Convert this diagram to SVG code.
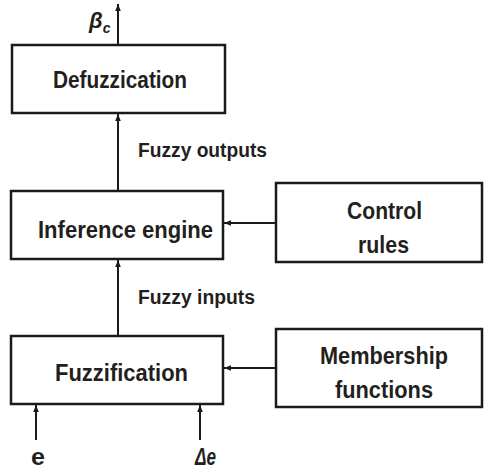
<svg xmlns="http://www.w3.org/2000/svg" width="485" height="470" viewBox="0 0 485 470">
  <defs>
    <marker id="arrow" markerWidth="8" markerHeight="8" refX="7" refY="4" orient="auto" markerUnits="userSpaceOnUse">
      <path d="M0,1.2 L7,4 L0,6.8 Z" fill="#1a1a1a"/>
    </marker>
    <style>
      .box { fill: #ffffff; stroke: #1a1a1a; stroke-width: 2.5; }
      .wire { fill: none; stroke: #1a1a1a; stroke-width: 2; marker-end: url(#arrow); }
      .lbl { font-family: "Liberation Sans", Arial, sans-serif; font-weight: bold; fill: #231f20; }
      .big { font-size: 24px; }
      .small { font-size: 20px; }
    </style>
  </defs>
  <rect width="485" height="470" fill="#ffffff"/>

  <g id="defuzzication">
    <rect class="box" x="12" y="45" width="213" height="68"/>
    <text class="lbl big" x="53" y="88" textLength="134" lengthAdjust="spacingAndGlyphs">Defuzzication</text>
  </g>

  <g id="inference-engine">
    <rect class="box" x="11" y="191" width="212" height="68"/>
    <text class="lbl big" x="38" y="238" textLength="175" lengthAdjust="spacingAndGlyphs">Inference engine</text>
  </g>

  <g id="control-rules">
    <rect class="box" x="276" y="183" width="206" height="79"/>
    <text class="lbl big" x="347" y="219" textLength="75" lengthAdjust="spacingAndGlyphs">Control</text>
    <text class="lbl big" x="358" y="253" textLength="51" lengthAdjust="spacingAndGlyphs">rules</text>
  </g>

  <g id="fuzzification">
    <rect class="box" x="11" y="336" width="212" height="68"/>
    <text class="lbl big" x="55" y="381" textLength="133" lengthAdjust="spacingAndGlyphs">Fuzzification</text>
  </g>

  <g id="membership-functions">
    <rect class="box" x="276" y="329" width="206" height="78"/>
    <text class="lbl big" x="320" y="364" textLength="128" lengthAdjust="spacingAndGlyphs">Membership</text>
    <text class="lbl big" x="335" y="398" textLength="98" lengthAdjust="spacingAndGlyphs">functions</text>
  </g>

  <g id="connectors">
    <line class="wire" x1="118" y1="45" x2="118" y2="4"/>
    <line class="wire" x1="118" y1="191" x2="118" y2="114"/>
    <line class="wire" x1="118" y1="336" x2="118" y2="260"/>
    <line class="wire" x1="276" y1="223" x2="224" y2="223"/>
    <line class="wire" x1="276" y1="368" x2="224" y2="368"/>
    <line class="wire" x1="36" y1="440" x2="36" y2="405"/>
    <line class="wire" x1="200" y1="440" x2="200" y2="405"/>
  </g>

  <g id="labels">
    <text class="lbl small" x="138" y="157" textLength="129" lengthAdjust="spacingAndGlyphs">Fuzzy outputs</text>
    <text class="lbl small" x="138" y="304" textLength="117" lengthAdjust="spacingAndGlyphs">Fuzzy inputs</text>
    <text class="lbl big" x="31" y="465" textLength="14" lengthAdjust="spacingAndGlyphs">e</text>
    <text class="lbl big" x="195" y="465" font-style="italic" textLength="21" lengthAdjust="spacingAndGlyphs">Δe</text>
    <text class="lbl" x="89" y="28" font-size="22" font-style="italic">β<tspan font-size="14" dy="5">c</tspan></text>
  </g>
</svg>
